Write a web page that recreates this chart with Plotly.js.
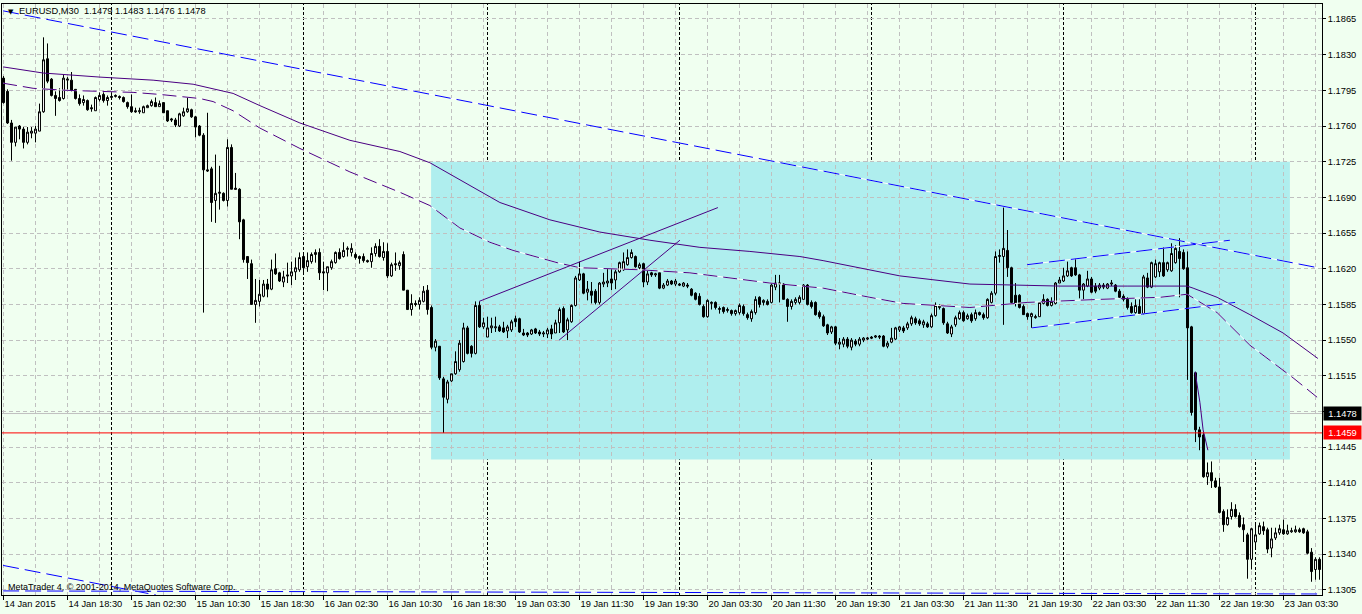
<!DOCTYPE html>
<html><head><meta charset="utf-8">
<script src="https://cdn.plot.ly/plotly-3.0.1.min.js"></script>
<style>html,body{margin:0;padding:0;background:#F0FFF0;}#chart{width:1362px;height:614px;}</style>
</head><body><div id="chart"></div>
<script>
// ---- EURUSD M30 candles (bar 0 = 14 Jan 2015 10:30) ----
const openP = [
1.1807,1.1794,1.1763,1.1744,1.1760,1.1757,1.1744,1.1753,1.1753,1.1755,
1.1774,1.1826,1.1806,1.1790,1.1788,1.1787,1.1805,1.1805,1.1796,1.1787,
1.1783,1.1785,1.1778,1.1775,1.1786,1.1791,1.1785,1.1788,1.1789,1.1789,
1.1788,1.1783,1.1779,1.1775,1.1774,1.1773,1.1778,1.1780,1.1783,1.1779,
1.1783,1.1775,1.1767,1.1766,1.1760,1.1770,1.1774,1.1776,1.1769,1.1760,
1.1751,1.1717,1.1718,1.1687,1.1694,1.1694,1.1687,1.1739,1.1699,1.1698,
1.1668,1.1632,1.1625,1.1585,1.1588,1.1593,1.1605,1.1600,1.1620,1.1616,
1.1607,1.1614,1.1613,1.1617,1.1619,1.1632,1.1622,1.1627,1.1634,1.1636,
1.1617,1.1616,1.1621,1.1626,1.1636,1.1632,1.1639,1.1636,1.1634,1.1632,
1.1632,1.1628,1.1627,1.1635,1.1642,1.1631,1.1637,1.1613,1.1625,1.1623,
1.1634,1.1599,1.1580,1.1586,1.1585,1.1588,1.1599,1.1582,1.1543,1.1544,
1.1512,1.1492,1.1510,1.1517,1.1521,1.1529,1.1562,1.1544,1.1537,1.1584,
1.1563,1.1553,1.1562,1.1562,1.1563,1.1562,1.1559,1.1560,1.1571,1.1571,
1.1557,1.1557,1.1556,1.1561,1.1558,1.1556,1.1556,1.1561,1.1557,1.1567,
1.1581,1.1560,1.1568,1.1584,1.1609,1.1615,1.1597,1.1598,1.1598,1.1587,
1.1605,1.1606,1.1610,1.1609,1.1617,1.1619,1.1624,1.1631,1.1632,1.1621,
1.1625,1.1607,1.1616,1.1614,1.1616,1.1601,1.1604,1.1608,1.1605,1.1605,
1.1603,1.1604,1.1600,1.1596,1.1593,1.1583,1.1573,1.1586,1.1587,1.1580,
1.1582,1.1579,1.1579,1.1576,1.1577,1.1583,1.1575,1.1571,1.1577,1.1592,
1.1587,1.1588,1.1587,1.1602,1.1605,1.1605,1.1590,1.1583,1.1587,1.1587,
1.1590,1.1604,1.1587,1.1587,1.1577,1.1573,1.1565,1.1558,1.1563,1.1546,
1.1546,1.1551,1.1543,1.1549,1.1546,1.1550,1.1551,1.1553,1.1553,1.1554,
1.1554,1.1544,1.1548,1.1551,1.1560,1.1562,1.1562,1.1566,1.1571,1.1569,
1.1565,1.1566,1.1563,1.1574,1.1582,1.1581,1.1566,1.1556,1.1565,1.1571,
1.1577,1.1571,1.1575,1.1571,1.1577,1.1575,1.1572,1.1587,1.1596,1.1632,
1.1632,1.1638,1.1621,1.1594,1.1594,1.1583,1.1576,1.1573,1.1572,1.1573,
1.1586,1.1590,1.1584,1.1586,1.1606,1.1608,1.1613,1.1621,1.1621,1.1614,
1.1599,1.1603,1.1610,1.1603,1.1601,1.1604,1.1601,1.1605,1.1604,1.1598,
1.1593,1.1590,1.1583,1.1577,1.1583,1.1576,1.1611,1.1602,1.1612,1.1617,
1.1626,1.1619,1.1618,1.1626,1.1637,1.1636,1.1621,1.1563,1.1518,1.1462,
1.1457,1.1416,1.1420,1.1412,1.1406,1.1382,1.1369,1.1377,1.1384,1.1378,
1.1369,1.1359,1.1335,1.1352,1.1360,1.1367,1.1364,1.1346,1.1356,1.1361,
1.1364,1.1360,1.1362,1.1362,1.1364,1.1365,1.1362,1.1342,1.1325,1.1335];
const highP = [
1.1809,1.1796,1.1766,1.1759,1.1761,1.1759,1.1759,1.1759,1.1760,1.1782,
1.1847,1.1841,1.1807,1.1794,1.1797,1.1810,1.1808,1.1813,1.1796,1.1791,
1.1790,1.1786,1.1781,1.1789,1.1793,1.1793,1.1790,1.1791,1.1791,1.1790,
1.1789,1.1784,1.1791,1.1778,1.1778,1.1780,1.1781,1.1786,1.1788,1.1785,
1.1783,1.1775,1.1768,1.1768,1.1773,1.1778,1.1788,1.1777,1.1770,1.1761,
1.1753,1.1773,1.1720,1.1732,1.1721,1.1695,1.1747,1.1742,1.1714,1.1699,
1.1669,1.1632,1.1629,1.1610,1.1609,1.1609,1.1610,1.1629,1.1635,1.1617,
1.1618,1.1626,1.1627,1.1631,1.1636,1.1636,1.1636,1.1636,1.1639,1.1640,
1.1627,1.1622,1.1629,1.1637,1.1640,1.1646,1.1642,1.1645,1.1636,1.1633,
1.1635,1.1629,1.1641,1.1645,1.1649,1.1646,1.1645,1.1626,1.1636,1.1628,
1.1637,1.1599,1.1595,1.1589,1.1592,1.1603,1.1604,1.1584,1.1551,1.1544,
1.1514,1.1511,1.1517,1.1539,1.1550,1.1567,1.1564,1.1545,1.1588,1.1588,
1.1572,1.1573,1.1572,1.1573,1.1565,1.1568,1.1565,1.1570,1.1574,1.1572,
1.1561,1.1558,1.1561,1.1562,1.1560,1.1559,1.1562,1.1565,1.1570,1.1582,
1.1583,1.1572,1.1585,1.1613,1.1627,1.1616,1.1608,1.1607,1.1600,1.1607,
1.1616,1.1620,1.1620,1.1619,1.1627,1.1636,1.1639,1.1639,1.1633,1.1626,
1.1626,1.1618,1.1617,1.1616,1.1616,1.1606,1.1610,1.1609,1.1610,1.1606,
1.1607,1.1606,1.1601,1.1597,1.1596,1.1585,1.1590,1.1588,1.1588,1.1583,
1.1583,1.1582,1.1580,1.1580,1.1586,1.1585,1.1577,1.1580,1.1593,1.1593,
1.1590,1.1590,1.1606,1.1614,1.1614,1.1606,1.1591,1.1590,1.1592,1.1594,
1.1605,1.1605,1.1589,1.1588,1.1579,1.1575,1.1566,1.1564,1.1564,1.1552,
1.1553,1.1553,1.1552,1.1551,1.1553,1.1553,1.1553,1.1554,1.1555,1.1555,
1.1555,1.1549,1.1562,1.1563,1.1564,1.1564,1.1568,1.1574,1.1573,1.1571,
1.1570,1.1568,1.1576,1.1587,1.1585,1.1582,1.1568,1.1565,1.1574,1.1579,
1.1579,1.1576,1.1577,1.1580,1.1578,1.1577,1.1591,1.1598,1.1637,1.1639,
1.1680,1.1658,1.1622,1.1606,1.1595,1.1585,1.1577,1.1577,1.1575,1.1587,
1.1595,1.1591,1.1592,1.1607,1.1612,1.1621,1.1627,1.1622,1.1630,1.1615,
1.1606,1.1618,1.1612,1.1606,1.1606,1.1606,1.1606,1.1609,1.1605,1.1600,
1.1595,1.1592,1.1587,1.1590,1.1590,1.1614,1.1616,1.1627,1.1629,1.1627,
1.1641,1.1627,1.1645,1.1643,1.1650,1.1639,1.1637,1.1564,1.1519,1.1465,
1.1459,1.1430,1.1431,1.1415,1.1415,1.1384,1.1384,1.1391,1.1389,1.1381,
1.1376,1.1361,1.1366,1.1371,1.1371,1.1372,1.1366,1.1366,1.1366,1.1369,
1.1374,1.1369,1.1366,1.1368,1.1366,1.1366,1.1364,1.1346,1.1337,1.1337];
const lowP = [
1.1782,1.1762,1.1726,1.1740,1.1747,1.1738,1.1742,1.1748,1.1744,1.1755,
1.1773,1.1802,1.1789,1.1770,1.1784,1.1786,1.1796,1.1794,1.1786,1.1780,
1.1780,1.1775,1.1774,1.1775,1.1784,1.1783,1.1780,1.1786,1.1788,1.1786,
1.1783,1.1777,1.1773,1.1773,1.1772,1.1773,1.1778,1.1779,1.1779,1.1779,
1.1773,1.1764,1.1764,1.1759,1.1759,1.1769,1.1773,1.1768,1.1749,1.1750,
1.1577,1.1715,1.1666,1.1665,1.1678,1.1686,1.1681,1.1698,1.1698,1.1649,
1.1626,1.1610,1.1585,1.1567,1.1583,1.1592,1.1592,1.1599,1.1614,1.1607,
1.1602,1.1606,1.1604,1.1609,1.1617,1.1615,1.1617,1.1625,1.1626,1.1609,
1.1599,1.1598,1.1619,1.1625,1.1629,1.1631,1.1632,1.1632,1.1629,1.1625,
1.1626,1.1626,1.1621,1.1632,1.1631,1.1628,1.1611,1.1612,1.1618,1.1619,
1.1599,1.1580,1.1574,1.1583,1.1580,1.1587,1.1575,1.1541,1.1539,1.1511,
1.1459,1.1488,1.1509,1.1516,1.1519,1.1528,1.1536,1.1533,1.1536,1.1562,
1.1561,1.1553,1.1557,1.1558,1.1558,1.1557,1.1552,1.1558,1.1563,1.1557,
1.1554,1.1553,1.1555,1.1556,1.1554,1.1553,1.1552,1.1551,1.1557,1.1557,
1.1557,1.1550,1.1567,1.1583,1.1608,1.1595,1.1589,1.1586,1.1585,1.1585,
1.1602,1.1602,1.1599,1.1600,1.1616,1.1618,1.1623,1.1630,1.1621,1.1619,
1.1602,1.1604,1.1612,1.1612,1.1600,1.1600,1.1603,1.1604,1.1603,1.1603,
1.1602,1.1601,1.1593,1.1589,1.1584,1.1572,1.1572,1.1580,1.1580,1.1576,
1.1576,1.1577,1.1574,1.1574,1.1575,1.1574,1.1570,1.1568,1.1575,1.1582,
1.1584,1.1584,1.1586,1.1599,1.1587,1.1590,1.1568,1.1580,1.1585,1.1585,
1.1590,1.1584,1.1581,1.1574,1.1571,1.1563,1.1555,1.1556,1.1545,1.1541,
1.1543,1.1542,1.1540,1.1544,1.1544,1.1548,1.1550,1.1551,1.1552,1.1551,
1.1543,1.1542,1.1547,1.1550,1.1558,1.1557,1.1560,1.1564,1.1565,1.1564,
1.1562,1.1562,1.1562,1.1573,1.1580,1.1565,1.1556,1.1553,1.1563,1.1570,
1.1568,1.1570,1.1567,1.1569,1.1574,1.1570,1.1571,1.1586,1.1594,1.1626,
1.1565,1.1612,1.1586,1.1583,1.1581,1.1575,1.1570,1.1562,1.1571,1.1573,
1.1585,1.1583,1.1583,1.1585,1.1606,1.1607,1.1612,1.1612,1.1613,1.1591,
1.1590,1.1602,1.1596,1.1596,1.1599,1.1600,1.1600,1.1603,1.1597,1.1591,
1.1588,1.1580,1.1576,1.1576,1.1575,1.1575,1.1601,1.1601,1.1611,1.1612,
1.1612,1.1617,1.1617,1.1625,1.1592,1.1619,1.1511,1.1476,1.1450,1.1442,
1.1415,1.1408,1.1405,1.1405,1.1380,1.1362,1.1368,1.1374,1.1376,1.1366,
1.1352,1.1316,1.1325,1.1347,1.1359,1.1359,1.1341,1.1337,1.1354,1.1359,
1.1359,1.1359,1.1361,1.1361,1.1361,1.1360,1.1340,1.1313,1.1315,1.1315];
const closeP = [
1.1783,1.1763,1.1744,1.1759,1.1757,1.1744,1.1754,1.1755,1.1757,1.1774,
1.1825,1.1804,1.1790,1.1787,1.1785,1.1807,1.1806,1.1795,1.1787,1.1782,
1.1786,1.1776,1.1777,1.1788,1.1790,1.1785,1.1788,1.1789,1.1790,1.1788,
1.1784,1.1779,1.1774,1.1774,1.1775,1.1779,1.1780,1.1784,1.1779,1.1782,
1.1773,1.1765,1.1766,1.1761,1.1772,1.1774,1.1777,1.1769,1.1759,1.1751,
1.1717,1.1716,1.1685,1.1694,1.1695,1.1687,1.1739,1.1698,1.1698,1.1666,
1.1629,1.1626,1.1585,1.1589,1.1595,1.1605,1.1600,1.1619,1.1615,1.1608,
1.1612,1.1613,1.1617,1.1621,1.1631,1.1621,1.1628,1.1634,1.1636,1.1616,
1.1616,1.1622,1.1627,1.1636,1.1630,1.1638,1.1640,1.1640,1.1631,1.1630,
1.1628,1.1627,1.1635,1.1642,1.1632,1.1637,1.1613,1.1624,1.1624,1.1626,
1.1599,1.1580,1.1586,1.1585,1.1589,1.1598,1.1580,1.1543,1.1549,1.1513,
1.1494,1.1509,1.1517,1.1529,1.1547,1.1562,1.1537,1.1537,1.1584,1.1563,
1.1567,1.1562,1.1564,1.1563,1.1559,1.1558,1.1563,1.1568,1.1568,1.1558,
1.1555,1.1555,1.1560,1.1557,1.1556,1.1557,1.1560,1.1556,1.1567,1.1580,
1.1558,1.1570,1.1584,1.1611,1.1615,1.1596,1.1600,1.1594,1.1587,1.1606,
1.1607,1.1608,1.1606,1.1617,1.1626,1.1627,1.1631,1.1636,1.1622,1.1624,
1.1607,1.1615,1.1614,1.1615,1.1601,1.1604,1.1608,1.1605,1.1608,1.1604,
1.1606,1.1603,1.1594,1.1590,1.1585,1.1573,1.1589,1.1587,1.1582,1.1581,
1.1578,1.1580,1.1576,1.1579,1.1584,1.1576,1.1572,1.1578,1.1590,1.1585,
1.1589,1.1585,1.1604,1.1606,1.1606,1.1590,1.1583,1.1588,1.1590,1.1592,
1.1604,1.1585,1.1583,1.1575,1.1573,1.1564,1.1557,1.1563,1.1547,1.1548,
1.1551,1.1544,1.1550,1.1546,1.1551,1.1552,1.1552,1.1552,1.1554,1.1553,
1.1544,1.1547,1.1552,1.1562,1.1563,1.1559,1.1566,1.1572,1.1567,1.1566,
1.1568,1.1563,1.1574,1.1584,1.1584,1.1567,1.1557,1.1563,1.1572,1.1577,
1.1569,1.1574,1.1569,1.1577,1.1575,1.1572,1.1590,1.1596,1.1632,1.1633,
1.1640,1.1621,1.1587,1.1586,1.1582,1.1575,1.1573,1.1576,1.1573,1.1587,
1.1590,1.1584,1.1588,1.1606,1.1609,1.1613,1.1618,1.1613,1.1614,1.1599,
1.1605,1.1610,1.1597,1.1598,1.1604,1.1602,1.1605,1.1606,1.1598,1.1592,
1.1590,1.1582,1.1577,1.1584,1.1576,1.1612,1.1602,1.1626,1.1625,1.1626,
1.1613,1.1626,1.1635,1.1640,1.1630,1.1620,1.1562,1.1479,1.1462,1.1455,
1.1416,1.1420,1.1412,1.1406,1.1381,1.1369,1.1376,1.1384,1.1377,1.1367,
1.1364,1.1335,1.1365,1.1359,1.1368,1.1363,1.1345,1.1355,1.1361,1.1365,
1.1360,1.1363,1.1363,1.1364,1.1362,1.1361,1.1341,1.1323,1.1335,1.1325];

// ---- axis labels ----
const tickBars = [0,16,32,48,64,80,96,112,128,144,160,176,192,208,224,240,256,272,288,304,320];
const tickLabels = ["14 Jan 2015","14 Jan 18:30","15 Jan 02:30","15 Jan 10:30","15 Jan 18:30",
"16 Jan 02:30","16 Jan 10:30","16 Jan 18:30","19 Jan 03:30","19 Jan 11:30","19 Jan 19:30",
"20 Jan 03:30","20 Jan 11:30","20 Jan 19:30","21 Jan 03:30","21 Jan 11:30","21 Jan 19:30",
"22 Jan 03:30","22 Jan 11:30","22 Jan 19:30","23 Jan 03:30"];
const yTicks = [1.1305,1.1340,1.1375,1.1410,1.1445,1.1480,1.1515,1.1550,1.1585,1.1620,1.1655,1.1690,1.1725,1.1760,1.1795,1.1830,1.1865];
const daySepBars = [27,75,121,169,217,265,313];

// ---- moving averages (read at sample bars) ----
const maSlowBars = [-0.1,9.9,24.1,37.4,47.4,53.4,57.4,64.1,74.1,86.6,99.1,106.6,114.1,124.1,136.6,149.1,161.6,174.1,186.6,199.1,204.9,216.6,224.1,241.6,264.1,280.9,295.9,297.4,303.4,311.6,319.9,328.6];
const maSlowVals = [1.1818,1.1812,1.1808,1.1805,1.1801,1.1796,1.1792,1.1780,1.1763,1.1746,1.1735,1.1724,1.1707,1.1685,1.1668,1.1656,1.1648,1.1641,1.1637,1.1632,1.1628,1.1619,1.1613,1.1605,1.1603,1.1603,1.1603,1.1601,1.1592,1.1575,1.1557,1.1532];
const maFastBars = [-0.1,7.4,15.9,24.1,32.4,39.1,44.9,49.1,52.4,57.4,64.1,74.1,86.6,99.1,106.6,114.1,121.6,127.4,138.4,144.1,159.1,171.6,191.6,204.9,216.6,224.9,241.6,255.9,274.1,289.1,295.9,303.4,311.6,322.4,328.4];
const maFastVals = [1.1802,1.1797,1.1795,1.1794,1.1793,1.1791,1.1789,1.1787,1.1784,1.1775,1.1758,1.1738,1.1715,1.1695,1.1682,1.1660,1.1646,1.1638,1.1626,1.1621,1.1619,1.1616,1.1606,1.1601,1.1592,1.1586,1.1582,1.1587,1.1590,1.1592,1.1595,1.1577,1.1545,1.1513,1.1494];

// ---- drawn objects ----
const blueTrendBars = [-0.1, 328.6],  blueTrendVals = [1.1873, 1.1621];
const blueLowBars   = [-0.1, 38.1],   blueLowVals   = [1.1329, 1.1300];
const blueBottomBars= [-0.1, 328.6],  blueBottomVals= [1.1304, 1.1301];
const chanUpBars    = [255.9, 306.6], chanUpVals    = [1.1624, 1.1648];
const chanDnBars    = [257.1, 307.9], chanDnVals    = [1.1562, 1.1587];
const purple1Bars   = [118.9, 178.6], purple1Vals   = [1.1588, 1.1680];
const purple2Bars   = [138.9, 169.1], purple2Vals   = [1.1550, 1.1648];
const purpleArcBars = [297.9, 299.1, 299.9, 301.1], purpleArcVals = [1.1519, 1.1489, 1.1462, 1.1442];
const rectBars = [106.9, 321.6], rectVals = [1.1433, 1.1725];
const bidLevel = 1.1478, redLevel = 1.1459;
const headerText = "EURUSD,M30  1.1479 1.1483 1.1476 1.1478";
const footerText = "MetaTrader 4, © 2001-2014, MetaQuotes Software Corp.";

const bars = openP.map((_, i) => i);
const FONT = "Liberation Sans, Arial, sans-serif";
const IND = "#4B0082", BLUE = "#0000FF";

function line(x, y, color, dash, width) {
  return {type: "scatter", mode: "lines", x: x, y: y, hoverinfo: "skip", showlegend: false,
          line: {color: color, width: width || 1, dash: dash || "solid"}};
}
function dashed(x, y, color, dash) {
  return [line(x, y, "#FFFFFF"), line(x, y, color, dash)];
}

const traces = [
  {type: "candlestick", x: bars, open: openP, high: highP, low: lowP, close: closeP,
   increasing: {line: {color: "#000000", width: 1}, fillcolor: "#FFFFFF"},
   decreasing: {line: {color: "#000000", width: 1}, fillcolor: "#000000"},
   whiskerwidth: 0, hoverinfo: "skip", showlegend: false},
  line(maSlowBars, maSlowVals, IND, "solid", 1),
  ...dashed(maFastBars, maFastVals, IND, "14px,6px"),
  ...dashed(blueTrendBars, blueTrendVals, BLUE, "16px,6px"),
  ...dashed(blueLowBars, blueLowVals, BLUE, "16px,6px"),
  ...dashed(blueBottomBars, blueBottomVals, BLUE, "16px,6px"),
  ...dashed(chanUpBars, chanUpVals, BLUE, "16px,6px"),
  ...dashed(chanDnBars, chanDnVals, BLUE, "16px,6px"),
  line(purple1Bars, purple1Vals, IND),
  line(purple2Bars, purple2Vals, IND),
  line(purpleArcBars, purpleArcVals, IND)
];

const shapes = [
  {type: "rect", layer: "below", xref: "x", yref: "y", x0: rectBars[0], x1: rectBars[1],
   y0: rectVals[0], y1: rectVals[1], fillcolor: "#AFEEEE", line: {width: 0}},
  {type: "line", layer: "below", xref: "paper", yref: "y", x0: 0, x1: 1, y0: bidLevel, y1: bidLevel,
   line: {color: "#C0C0C0", width: 1}}
].concat(daySepBars.map(b => ({type: "line", layer: "below", xref: "x", yref: "paper",
   x0: b, x1: b, y0: 0, y1: 1, line: {color: "#000000", width: 1, dash: "3px,2px"}})))
 .concat([{type: "line", layer: "above", xref: "paper", yref: "y", x0: 0, x1: 1, y0: redLevel, y1: redLevel,
   line: {color: "#FF0000", width: 1}}]);

const grid = {showgrid: true, gridcolor: "#C0C0C0", griddash: "4px,3px", gridwidth: 1};

const layout = {
  width: 1362, height: 614,
  margin: {l: 2, r: 40, t: 4, b: 19, pad: 0},
  paper_bgcolor: "#F0FFF0", plot_bgcolor: "#F0FFF0",
  showlegend: false, hovermode: false,
  font: {family: FONT, size: 9.3, color: "#000000"},
  xaxis: Object.assign({
    type: "linear", range: [-0.375, 329.625], rangeslider: {visible: false},
    tickmode: "array", tickvals: tickBars, ticktext: tickLabels,
    ticks: "outside", ticklen: 4, tickcolor: "#000000", tickwidth: 1,
    ticklabelposition: "outside right",
    tickfont: {family: FONT, size: 9.3, color: "#000000"},
    showline: true, linecolor: "#000000", linewidth: 1, mirror: true, zeroline: false,
    minor: {tickmode: "linear", tick0: 0, dtick: 8, showgrid: true, gridcolor: "#C0C0C0",
            griddash: "4px,3px", ticks: ""}
  }, grid),
  yaxis: Object.assign({
    side: "right", range: [1.1300, 1.18797],
    tickmode: "array", tickvals: yTicks, tickformat: ".4f",
    ticks: "outside", ticklen: 3, tickcolor: "#000000", tickwidth: 1,
    tickfont: {family: FONT, size: 9.3, color: "#000000"},
    showline: true, linecolor: "#000000", linewidth: 1, mirror: true, zeroline: false
  }, grid),
  shapes: shapes,
  annotations: [
    {xref: "paper", yref: "paper", x: 0, y: 1, xanchor: "left", yanchor: "top", xshift: 4, yshift: -2,
     text: "▼", showarrow: false, font: {family: "DejaVu Sans", size: 7, color: "#000000"}},
    {xref: "paper", yref: "paper", x: 0, y: 1, xanchor: "left", yanchor: "top", xshift: 15, yshift: 0,
     text: headerText, showarrow: false, font: {family: FONT, size: 9.3, color: "#000000"}},
    {xref: "paper", yref: "paper", x: 0, y: 0, xanchor: "left", yanchor: "bottom", xshift: 4, yshift: 1,
     text: footerText, showarrow: false, font: {family: FONT, size: 9, color: "#000000"}},
    {xref: "paper", yref: "y", x: 1, y: bidLevel, xanchor: "left", yanchor: "middle", xshift: 1,
     text: bidLevel.toFixed(4), showarrow: false, bgcolor: "#000000", borderpad: 1, width: 35, height: 11,
     font: {family: FONT, size: 9.3, color: "#FFFFFF"}},
    {xref: "paper", yref: "y", x: 1, y: redLevel, xanchor: "left", yanchor: "middle", xshift: 1,
     text: redLevel.toFixed(4), showarrow: false, bgcolor: "#FF0000", borderpad: 1, width: 35, height: 11,
     font: {family: FONT, size: 9.3, color: "#FFFFFF"}}
  ]
};

Plotly.newPlot("chart", traces, layout, {displayModeBar: false, staticPlot: true});
</script>
</body></html>
